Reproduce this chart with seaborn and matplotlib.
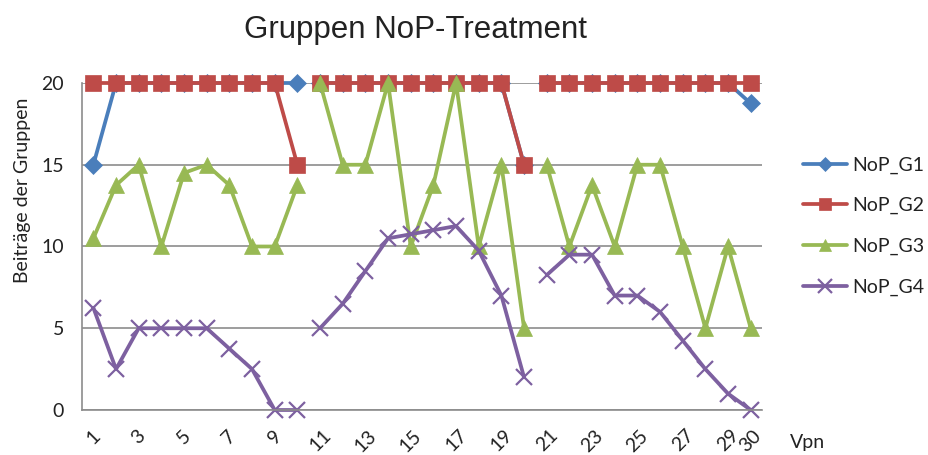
import pandas as pd
import matplotlib
matplotlib.use("Agg")
import matplotlib.pyplot as plt
from matplotlib.lines import Line2D
import seaborn as sns

# ─── Data ────────────────────────────────────────────────────────────────────
vpn = list(range(1, 31))
block = [1] * 10 + [2] * 10 + [3] * 10      # three groups of ten Vpn, no line across groups

nop_g1 = [15, 20, 20, 20, 20, 20, 20, 20, 20, 20,
          20, 20, 20, 20, 20, 20, 20, 20, 20, 15,
          20, 20, 20, 20, 20, 20, 20, 20, 20, 18.75]
nop_g2 = [20, 20, 20, 20, 20, 20, 20, 20, 20, 15,
          20, 20, 20, 20, 20, 20, 20, 20, 20, 15,
          20, 20, 20, 20, 20, 20, 20, 20, 20, 20]
nop_g3 = [10.5, 13.75, 15, 10, 14.5, 15, 13.75, 10, 10, 13.75,
          20, 15, 15, 20, 10, 13.75, 20, 10, 15, 5,
          15, 10, 13.75, 10, 15, 15, 10, 5, 10, 5]
nop_g4 = [6.25, 2.5, 5, 5, 5, 5, 3.75, 2.5, 0, 0,
          5, 6.5, 8.5, 10.5, 10.75, 11, 11.25, 9.75, 7, 2,
          8.25, 9.5, 9.5, 7, 7, 6, 4.25, 2.5, 1, 0]

series = ["NoP_G1", "NoP_G2", "NoP_G3", "NoP_G4"]
xtick_vals = [1, 3, 5, 7, 9, 11, 13, 15, 17, 19, 21, 23, 25, 27, 29, 30]

# ─── Style ────────────────────────────────────────────────────────────────────
COLORS  = {"NoP_G1": "#4A7EBB", "NoP_G2": "#BE4B48",
           "NoP_G3": "#98B954", "NoP_G4": "#7D60A0"}
MARKERS = {"NoP_G1": "D", "NoP_G2": "s", "NoP_G3": "^", "NoP_G4": "x"}
MSIZE   = {"D": 9, "s": 11, "^": 11, "x": 12}
GRID    = "#8c8c8c"
TEXT    = "#222222"
LW      = 2.7

wide = pd.DataFrame({"Vpn": vpn, "block": block,
                     "NoP_G1": nop_g1, "NoP_G2": nop_g2,
                     "NoP_G3": nop_g3, "NoP_G4": nop_g4})
long = wide.melt(id_vars=["Vpn", "block"], value_vars=series,
                 var_name="series", value_name="value")

sns.set_style("white")
plt.rcParams["font.family"] = ["Lato", "DejaVu Sans"]

fig = plt.figure(figsize=(9.29, 4.55), dpi=100)
ax = fig.add_axes([0.0883, 0.0989, 0.732, 0.7187])

# one call per series so each keeps its own marker; units splits the three blocks
for s in series:
    m = MARKERS[s]
    sns.lineplot(data=long[long["series"] == s], x="Vpn", y="value",
                 units="block", estimator=None, color=COLORS[s],
                 marker=m, markersize=MSIZE[m],
                 markerfacecolor=COLORS[s], markeredgecolor=COLORS[s],
                 markeredgewidth=1.6 if m == "x" else 0.5,
                 linewidth=LW, legend=False, ax=ax, clip_on=False)

ax.set_xlim(0.5, 30.5)
ax.set_ylim(0, 20)
ax.set_yticks([0, 5, 10, 15, 20])
ax.set_xticks(xtick_vals)
ax.set_xticklabels([str(v) for v in xtick_vals], rotation=45, ha="center")
ax.tick_params(axis="both", length=0, labelsize=14, colors=TEXT)
ax.tick_params(axis="y", pad=13)
ax.tick_params(axis="x", pad=12)
ax.set_xlabel("")
ax.set_ylabel("")

ax.yaxis.grid(True, color=GRID, linewidth=1.2)
ax.set_axisbelow(True)
for side in ["top", "right"]:
    ax.spines[side].set_visible(False)
for side in ["left", "bottom"]:
    ax.spines[side].set_color(GRID)
    ax.spines[side].set_linewidth(1.2)

fig.text(0.447, 0.917, "Gruppen NoP-Treatment", ha="center", va="baseline",
         fontsize=22.5, color=TEXT, family=["Liberation Sans", "DejaVu Sans"])
fig.text(0.024, 0.582, "Beiträge der Gruppen", rotation=90, ha="center",
         va="center", fontsize=14, color=TEXT)
fig.text(0.850, 0.016, "Vpn", ha="left", va="baseline", fontsize=14, color=TEXT)

handles = [Line2D([0], [0], color=COLORS[s], lw=LW, marker=MARKERS[s],
                  markersize=MSIZE[MARKERS[s]] * 0.8,
                  markerfacecolor=COLORS[s], markeredgecolor=COLORS[s],
                  markeredgewidth=1.6 if MARKERS[s] == "x" else 0.5)
           for s in series]
fig.legend(handles, series, loc="center left", bbox_to_anchor=(0.864, 0.503),
           frameon=False, fontsize=14, labelspacing=1.2, handlelength=2.3,
           handletextpad=0.25, borderpad=0, borderaxespad=0, labelcolor=TEXT)

plt.savefig("out.png", dpi=100)
plt.close(fig)
